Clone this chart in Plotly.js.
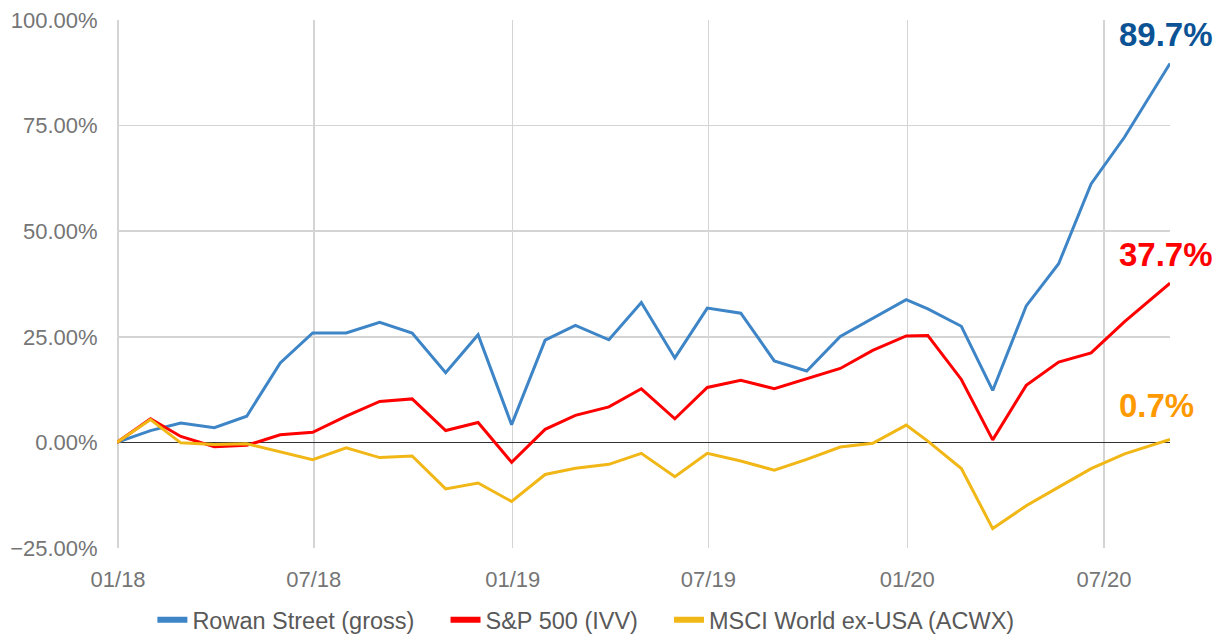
<!DOCTYPE html>
<html>
<head>
<meta charset="utf-8">
<script src="https://cdn.plot.ly/plotly-3.0.1.min.js"></script>
<style>
html,body{margin:0;padding:0;background:#fff;}
#chart{width:1219px;height:636px;}
</style>
</head>
<body>
<div id="chart"></div>
<script>
const dates = [
  "2017-12-31","2018-01-31","2018-02-28","2018-03-31","2018-04-30","2018-05-31","2018-06-30",
  "2018-07-31","2018-08-31","2018-09-30","2018-10-31","2018-11-30","2018-12-31",
  "2019-01-31","2019-02-28","2019-03-31","2019-04-30","2019-05-31","2019-06-30",
  "2019-07-31","2019-08-31","2019-09-30","2019-10-31","2019-11-30","2019-12-31",
  "2020-01-20","2020-02-20","2020-03-20","2020-04-20","2020-05-20","2020-06-19",
  "2020-07-20","2020-08-31"
];
const rowanStreet = [0, 2.8, 4.6, 3.5, 6.2, 18.8, 25.9, 25.9, 28.4, 25.9, 16.5, 25.5, 4.2,
  24.2, 27.7, 24.3, 33.1, 20.0, 31.8, 30.6, 19.3, 16.9, 25.1, 29.3, 33.8,
  31.6, 27.5, 12.3, 32.3, 42.3, 61.2, 72.3, 89.7];
const sp500 = [0, 5.6, 1.4, -1.0, -0.7, 1.8, 2.4, 6.2, 9.7, 10.3, 2.8, 4.7, -4.7,
  3.1, 6.4, 8.4, 12.7, 5.6, 13.0, 14.7, 12.7, 15.1, 17.5, 21.8, 25.2,
  25.3, 14.9, 0.6, 13.5, 19.0, 21.2, 28.6, 37.7];
const msciExUSA = [0, 5.4, -0.1, -0.5, -0.3, -2.3, -4.1, -1.3, -3.6, -3.2, -11.0, -9.6, -14.0,
  -7.6, -6.1, -5.2, -2.6, -8.1, -2.6, -4.4, -6.6, -4.0, -1.1, -0.2, 4.1,
  0.3, -6.2, -20.4, -15.0, -10.6, -6.2, -2.7, 0.7];
const seriesNames = ["Rowan Street (gross)", "S&P 500 (IVV)", "MSCI World ex-USA (ACWX)"];
const endLabels = ["89.7%", "37.7%", "0.7%"];
const tickDates = ["2018-01-01","2018-07-01","2019-01-01","2019-07-01","2020-01-01","2020-07-01"];
const tickLabels = ["01/18","07/18","01/19","07/19","01/20","07/20"];

const lineColors = ["#3d85c6", "#ff0000", "#f1b716"];
const labelColors = ["#0b5394", "#ff0000", "#ff9900"];
const allSeries = [rowanStreet, sp500, msciExUSA];
const pad = "\u00a0\u00a0\u00a0\u00a0";

const traces = allSeries.map((s, i) => ({
  x: dates, y: s, name: seriesNames[i], type: "scatter", mode: "lines",
  line: {color: lineColors[i], width: 3}, showlegend: false
}));
// legend-only entries (no data) to get thicker swatches
seriesNames.forEach((n, i) => {
  traces.push({
    x: [null], y: [null], name: n + (i < 2 ? pad : ""), type: "scatter", mode: "lines",
    line: {color: lineColors[i], width: 6}, showlegend: true
  });
});

const labelY = [0.972, 0.555, 0.27];
const annotations = endLabels.map((t, i) => ({
  text: "<b>" + t + "</b>", xref: "paper", yref: "paper",
  x: 0.9497, y: labelY[i], xanchor: "left", yanchor: "middle",
  showarrow: false, font: {family: "Liberation Sans, Arial, sans-serif", size: 33, color: labelColors[i]}
}));

const layout = {
  width: 1219, height: 636,
  margin: {l: 117, r: 49, t: 20, b: 88, autoexpand: false},
  paper_bgcolor: "#fff", plot_bgcolor: "#fff",
  font: {family: "Liberation Sans, Arial, sans-serif", size: 22, color: "#757575"},
  xaxis: {
    type: "date", range: ["2017-12-31", "2020-08-31"],
    tickvals: tickDates, ticktext: tickLabels,
    showgrid: true, gridcolor: "#d4d4d4", gridwidth: 1.5,
    zeroline: false, showline: false,
    ticks: "outside", ticklen: 12, tickcolor: "rgba(0,0,0,0)",
    tickfont: {size: 22, color: "#757575"}
  },
  yaxis: {
    range: [-25, 100], dtick: 25, tick0: 0,
    tickformat: ".2f", ticksuffix: "%",
    showgrid: true, gridcolor: "#d4d4d4", gridwidth: 1.5,
    zeroline: true, zerolinecolor: "#333333", zerolinewidth: 1.5,
    showline: false,
    ticks: "outside", ticklen: 14, tickcolor: "rgba(0,0,0,0)",
    tickfont: {size: 22, color: "#757575"}
  },
  showlegend: true,
  legend: {
    orientation: "h", xref: "container", yref: "container",
    x: 0.125, xanchor: "left", y: 0.025, yanchor: "middle",
    font: {size: 23.5, color: "#595959"}, itemwidth: 30, traceorder: "normal"
  },
  hovermode: false,
  annotations: annotations
};

Plotly.newPlot("chart", traces, layout, {displayModeBar: false, staticPlot: true});
</script>
</body>
</html>
